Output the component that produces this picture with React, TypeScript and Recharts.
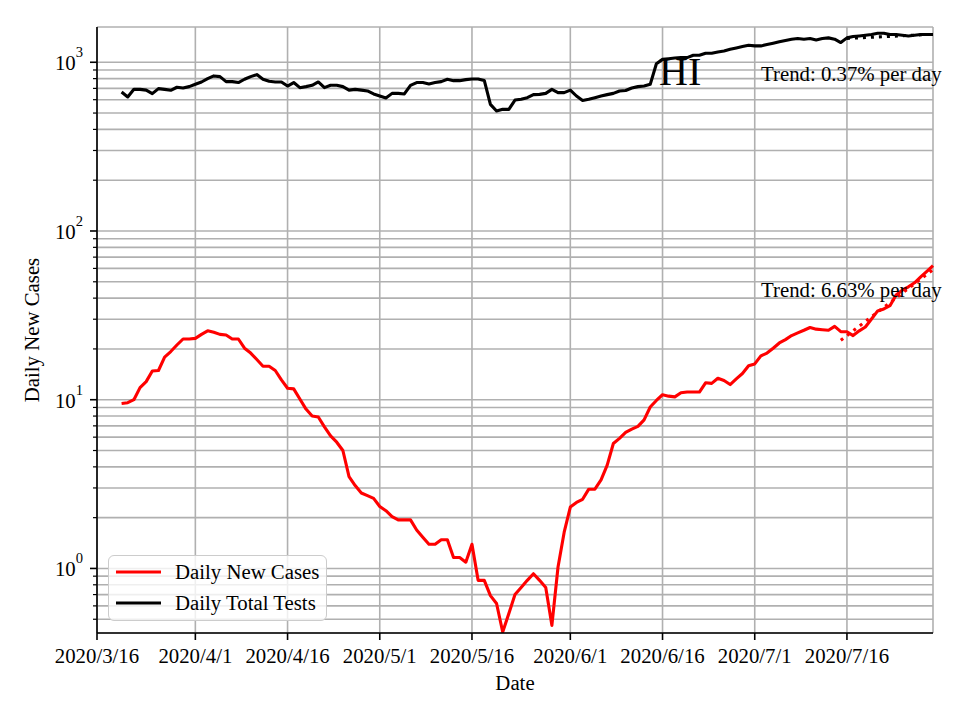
import React from 'react';
import { LineChart, Line, XAxis, YAxis, CartesianGrid, Legend } from 'recharts';

// day 0 = 2020/3/16, series start on day 4 (2020/3/20)
const firstDay = 4;

const dailyCases = [
  9.5, 9.6, 10.0, 11.8, 12.8, 14.8, 14.9, 17.9, 19.3, 21.1,
  22.9, 22.9, 23.1, 24.4, 25.6, 25.1, 24.4, 24.2, 22.9, 22.9,
  20.2, 18.9, 17.3, 15.8, 15.8, 14.9, 13.1, 11.7, 11.6, 10.1,
  8.8, 8.0, 7.9, 6.9, 6.1, 5.6, 5.0, 3.5, 3.1, 2.8,
  2.7, 2.6, 2.33, 2.2, 2.03, 1.94, 1.94, 1.94, 1.69, 1.53,
  1.39, 1.39, 1.48, 1.48, 1.16, 1.16, 1.09, 1.39, 0.85, 0.85,
  0.69, 0.62, 0.42, 0.54, 0.7, 0.77, 0.85, 0.93, 0.85, 0.77,
  0.46, 1.02, 1.64, 2.31, 2.46, 2.57, 2.95, 2.95, 3.35, 4.1,
  5.5, 5.9, 6.4, 6.7, 6.95, 7.6, 9.05, 9.9, 10.7, 10.5,
  10.4, 11.0, 11.1, 11.1, 11.1, 12.6, 12.5, 13.4, 13.0, 12.3,
  13.3, 14.3, 15.9, 16.3, 18.2, 18.9, 20.2, 21.7, 22.7, 24.0,
  24.9, 25.8, 26.8, 26.2, 26.0, 25.8, 27.2, 25.3, 25.3, 24.0,
  25.6, 27.0, 30.1, 33.6, 34.5, 36.1, 41.8, 44.6, 46.7, 49.3,
  53.5, 57.7, 62.4,
];

const dailyTests = [
  667, 623, 691, 691, 684, 652, 698, 691, 682, 711,
  704, 717, 740, 764, 800, 830, 822, 768, 768, 758,
  793, 822, 845, 793, 771, 764, 764, 723, 758, 707,
  717, 730, 764, 707, 730, 730, 717, 684, 691, 684,
  676, 649, 631, 614, 654, 654, 649, 730, 758, 758,
  744, 758, 768, 793, 778, 778, 789, 796, 796, 780,
  563, 514, 526, 526, 597, 603, 617, 643, 645, 654,
  691, 661, 661, 684, 631, 594, 603, 617, 631, 643,
  654, 676, 680, 704, 717, 723, 740, 980, 1040, 1050,
  1060, 1066, 1066, 1100, 1100, 1131, 1131, 1151, 1167, 1194,
  1216, 1240, 1261, 1250, 1250, 1273, 1297, 1322, 1345, 1370,
  1383, 1370, 1383, 1357, 1383, 1395, 1370, 1309, 1395, 1420,
  1432, 1445, 1460, 1486, 1486, 1460, 1460, 1445, 1432, 1445,
  1460, 1460, 1460,
];

const casesTrendDays = [121, 136];
const casesTrend = [22.5, 59];
const testsTrendDays = [122, 136];
const testsTrend = [1385, 1465];

const xTickDays = [0, 16, 31, 46, 61, 77, 92, 107, 122];
const xTickLabels = [
  '2020/3/16', '2020/4/1', '2020/4/16', '2020/5/1', '2020/5/16',
  '2020/6/1', '2020/6/16', '2020/7/1', '2020/7/16',
];
const yTicks = [
  0.5, 0.6, 0.7, 0.8, 0.9,
  1, 2, 3, 4, 5, 6, 7, 8, 9,
  10, 20, 30, 40, 50, 60, 70, 80, 90,
  100, 200, 300, 400, 500, 600, 700, 800, 900,
  1000,
];

const FONT = '"Liberation Serif", "Times New Roman", serif';
const FS = 20.8;

const data = dailyCases.map((c, i) => {
  const day = firstDay + i;
  const row: Record<string, number> = { day, cases: c, tests: dailyTests[i] };
  const ci = casesTrendDays.indexOf(day);
  if (ci >= 0) row.casesTrend = casesTrend[ci];
  const ti = testsTrendDays.indexOf(day);
  if (ti >= 0) row.testsTrend = testsTrend[ti];
  return row;
});

function XTick({ x, y, payload }: any) {
  const i = xTickDays.indexOf(payload.value);
  return (
    <g>
      <line x1={x} x2={x} y1={y} y2={y + 7} stroke="#000" strokeWidth={1.6} />
      <text x={x} y={y + 30} textAnchor="middle" fontFamily={FONT} fontSize={FS} fill="#000">
        {xTickLabels[i]}
      </text>
    </g>
  );
}

function YTick({ x, y, payload }: any) {
  const e = Math.log10(payload.value);
  const major = Math.abs(e - Math.round(e)) < 1e-6;
  return (
    <g>
      <line x1={x} x2={x - (major ? 7 : 4)} y1={y} y2={y} stroke="#000" strokeWidth={major ? 1.6 : 1.2} />
      {major && (
        <text x={x - 14} y={y + 8} textAnchor="end" fontFamily={FONT} fontSize={FS} fill="#000">
          10
          <tspan dy={-13} fontSize={14.6}>{Math.round(e)}</tspan>
        </text>
      )}
    </g>
  );
}

function LegendBox({ payload }: any) {
  const items = (payload || []).filter((p: any) => p.value === 'Daily New Cases' || p.value === 'Daily Total Tests');
  return (
    <div
      style={{
        width: 219,
        height: 66,
        boxSizing: 'border-box',
        background: 'rgba(255,255,255,0.8)',
        border: '1.6px solid #cccccc',
        borderRadius: 6,
        paddingTop: 0,
      }}
    >
      {items.map((p: any) => (
        <div key={p.value} style={{ display: 'flex', alignItems: 'center', height: 31 }}>
          <svg width={66} height={10} style={{ flex: 'none' }}>
            <line x1={7} x2={52} y1={5} y2={5} stroke={p.color} strokeWidth={3.1} />
          </svg>
          <span style={{ fontFamily: FONT, fontSize: FS, color: '#000', whiteSpace: 'nowrap' }}>{p.value}</span>
        </div>
      ))}
    </div>
  );
}

export default function App() {
  return (
    <div style={{ position: 'absolute', left: 0, top: 0, width: 960, height: 720, background: '#fff' }}>
      <LineChart width={960} height={720} data={data} margin={{ top: 27, right: 27, bottom: 0, left: 0 }}>
        <CartesianGrid stroke="#b0b0b0" strokeWidth={1.6} />
        <XAxis
          dataKey="day"
          type="number"
          domain={[0, 136]}
          ticks={xTickDays}
          interval={0}
          height={87}
          tickSize={0}
          tickMargin={0}
          tickLine={false}
          tick={<XTick />}
          axisLine={{ stroke: '#000', strokeWidth: 1.6 }}
        />
        <XAxis
          xAxisId="top"
          orientation="top"
          type="number"
          domain={[0, 136]}
          height={0}
          tick={false}
          tickLine={false}
          axisLine={{ stroke: '#000', strokeWidth: 1.6 }}
        />
        <YAxis
          scale="log"
          type="number"
          domain={[0.4144, 1618]}
          allowDataOverflow
          ticks={yTicks}
          interval={0}
          width={97}
          tickSize={0}
          tickMargin={0}
          tickLine={false}
          tick={<YTick />}
          axisLine={{ stroke: '#000', strokeWidth: 1.6 }}
        />
        <YAxis
          yAxisId="right"
          orientation="right"
          type="number"
          domain={[0, 1]}
          width={0}
          tick={false}
          tickLine={false}
          axisLine={{ stroke: '#000', strokeWidth: 1.6 }}
        />
        <Legend
          layout="horizontal"
          verticalAlign="middle"
          align="center"
          content={<LegendBox />}
          wrapperStyle={{ left: 108, top: 555, width: 219, height: 66 }}
        />
        <Line
          dataKey="cases"
          name="Daily New Cases"
          stroke="#ff0000"
          strokeWidth={3.1}
          dot={false}
          isAnimationActive={false}
          strokeLinejoin="round"
        />
        <Line
          dataKey="tests"
          name="Daily Total Tests"
          stroke="#000000"
          strokeWidth={3.1}
          dot={false}
          isAnimationActive={false}
          strokeLinejoin="round"
        />
        <Line
          dataKey="testsTrend"
          name="tests trend"
          stroke="#000000"
          strokeWidth={3.1}
          strokeDasharray="3 5"
          dot={false}
          connectNulls
          legendType="none"
          isAnimationActive={false}
        />
        <Line
          dataKey="casesTrend"
          name="cases trend"
          stroke="#ff0000"
          strokeWidth={3.1}
          strokeDasharray="3 5"
          dot={false}
          connectNulls
          legendType="none"
          isAnimationActive={false}
        />
      </LineChart>
      <svg
        width={960}
        height={720}
        style={{ position: 'absolute', left: 0, top: 0, pointerEvents: 'none' }}
        fontFamily={FONT}
      >
        <text x={659} y={84.5} fontSize={40} fill="#000">HI</text>
        <text x={761} y={81} fontSize={FS} fill="#000">Trend: 0.37% per day</text>
        <text x={761} y={297} fontSize={FS} fill="#000">Trend: 6.63% per day</text>
        <text x={515} y={690} fontSize={FS} textAnchor="middle" fill="#000">Date</text>
        <text x={39} y={330} fontSize={FS} textAnchor="middle" fill="#000" transform="rotate(-90 39 330)">
          Daily New Cases
        </text>
      </svg>
    </div>
  );
}
